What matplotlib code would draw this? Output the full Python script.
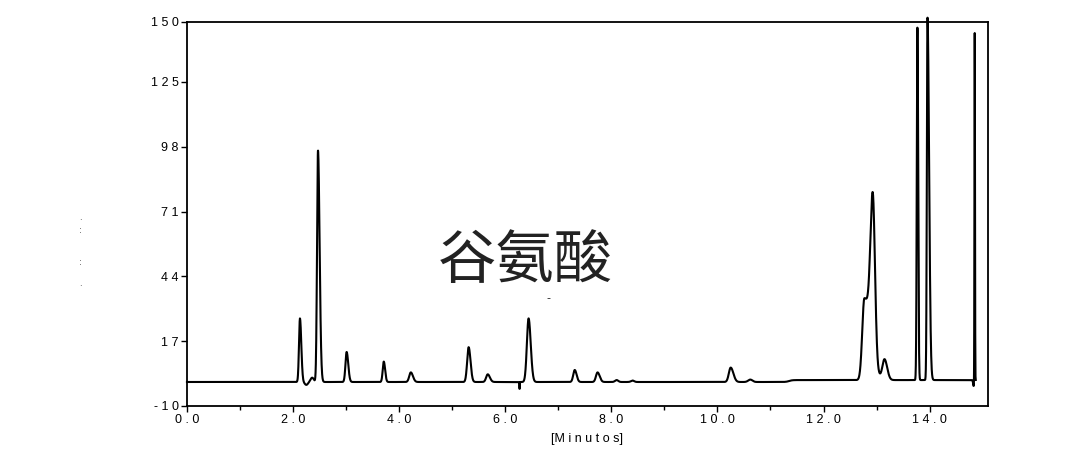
import numpy as np
import matplotlib
matplotlib.use('Agg')
import matplotlib.pyplot as plt

# peak table (minutes, height, left/right sigma)
peak_time = [2.13, 2.25, 2.36, 2.47, 3.01, 3.71, 4.22, 5.31, 5.67, 6.27, 6.44,
             7.31, 7.74, 8.10, 8.40, 10.25, 10.62, 12.77, 12.93, 13.15,
             13.77, 13.96, 14.83, 14.85]
peak_height = [26.5, -1.2, 1.8, 96.5, 12.5, 8.5, 4.0, 14.5, 3.2, -3.0, 26.5,
               5.0, 4.0, 0.8, 0.6, 6.0, 1.0, 34.0, 64.0, 8.5,
               147.0, 151.0, -2.5, 145.0]
sigma_left = [0.018, 0.03, 0.03, 0.018, 0.022, 0.02, 0.03, 0.028, 0.03, 0.004, 0.032,
              0.028, 0.03, 0.03, 0.03, 0.035, 0.04, 0.04, 0.045, 0.04,
              0.012, 0.012, 0.01, 0.005]
sigma_right = [0.025, 0.03, 0.03, 0.03, 0.03, 0.025, 0.04, 0.035, 0.04, 0.004, 0.04,
               0.035, 0.04, 0.03, 0.03, 0.05, 0.04, 0.12, 0.04, 0.05,
               0.014, 0.03, 0.01, 0.005]
drift_time = 11.35
drift_height = 0.8
run_end = 14.87

y_ticks = [-10, 17, 44, 71, 98, 125, 150]
y_labels = ['- 1 0', '1 7', '4 4', '7 1', '9 8', '1 2 5', '1 5 0']
x_ticks = [0, 2, 4, 6, 8, 10, 12, 14]
x_labels = ['0 . 0', '2 . 0', '4 . 0', '6 . 0', '8 . 0', '1 0 . 0', '1 2 . 0', '1 4 . 0']

t = np.linspace(0, run_end, 6000)
signal = drift_height / (1 + np.exp(-(t - drift_time) / 0.03))
for t0, h, sl, sr in zip(peak_time, peak_height, sigma_left, sigma_right):
    s = np.where(t < t0, sl, sr)
    signal = signal + h * np.exp(-0.5 * ((t - t0) / s) ** 2)

fig = plt.figure(figsize=(10.82, 4.68), dpi=100)
ax = fig.add_axes([0.1728, 0.1325, 0.7403, 0.8205])
ax.plot(t, signal, color='black', lw=1.5, clip_on=False)
ax.set_xlim(0, 15.1)
ax.set_ylim(-10, 150)

ax.set_yticks(y_ticks)
ax.set_yticklabels(y_labels, fontsize=9, family='Liberation Sans')
ax.set_xticks(x_ticks)
ax.set_xticklabels(x_labels, fontsize=9, family='Liberation Sans')
ax.set_xticks(np.arange(1, 15, 2), minor=True)
ax.tick_params(direction='out', length=4, width=1, pad=2)
ax.tick_params(which='minor', direction='out', length=3, width=1)
for sp in ax.spines.values():
    sp.set_linewidth(1.3)
ax.set_xlabel('[M i n u t o s]', fontsize=9, family='Liberation Sans', labelpad=5)

# watermark-like label in the middle
ax.text(0.422, 0.375, '谷氨酸', transform=ax.transAxes, ha='center', va='center',
        fontsize=42, color='#222222', family=['Noto Sans CJK SC', 'DejaVu Sans'])
ax.text(0.451, 0.281, '-', transform=ax.transAxes, ha='center', va='center',
        fontsize=8, color='#222222')

# stray marks at the far left
for yy, ch in zip([0.536, 0.508, 0.44, 0.395], ['.', ':', ':', '.']):
    fig.text(0.074, yy, ch, fontsize=6, color='#333333', ha='center', va='center')

fig.savefig('out.png', dpi=100, facecolor='white')
